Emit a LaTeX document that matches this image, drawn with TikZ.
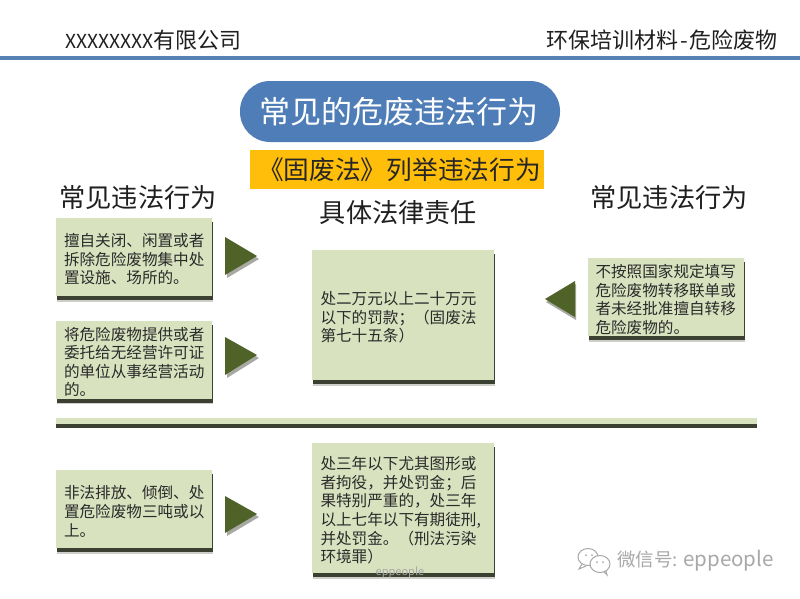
\documentclass[tikz,border=0pt]{standalone}
\usepackage{fontspec}
\setmainfont{Noto Sans CJK SC}
\usetikzlibrary{shadows}
\definecolor{boxgreen}{HTML}{D8E2BF}
\definecolor{shadowdark}{HTML}{3B4030}
\definecolor{arrowgreen}{HTML}{4F6228}
\definecolor{titleblue}{HTML}{4F7DB8}
\definecolor{ruleblue}{HTML}{5581B4}
\definecolor{lawyellow}{HTML}{FFBE0A}
\definecolor{inktext}{HTML}{2A2A2A}
\definecolor{markgray}{HTML}{A8A8A8}
\newcommand{\fs}[2]{\fontsize{#1}{#2}\selectfont}
\tikzset{
  x=1pt,y=-1pt,
  darkshadow/.style={general shadow={shadow xshift=1pt,shadow yshift=-4pt,fill=shadowdark}},
  softshadow/.style={general shadow={shadow xshift=1pt,shadow yshift=-5.5pt,fill=shadowdark!25}},
  lawbox/.style={fill=boxgreen,softshadow,darkshadow,inner sep=0pt,align=left,text=inktext,anchor=center,execute at begin node={\rule{0pt}{18pt}}},
  smallbox/.style={lawbox,minimum width=156pt,minimum height=78pt,text width=140pt,font=\fs{15.6}{18.6}},
  bigbox/.style={lawbox,minimum width=182pt,minimum height=130pt,text width=165pt,font=\fs{15.6}{18.6}},
  arrowhead/.style={fill=arrowgreen,general shadow={shadow xshift=2pt,shadow yshift=-3pt,fill=shadowdark!45}},
  heading/.style={inner sep=0pt,font=\fs{26.2}{30},text=black!88},
  headertext/.style={inner sep=0pt,font=\fs{22}{26},text=black!88},
  wechat/.style={draw=markgray,line width=1pt,fill=white},
}
\begin{document}
\begin{tikzpicture}
\useasboundingbox (0,0) rectangle (800,598);
\fill[white] (0,0) rectangle (800,598);
% header
\node[headertext,anchor=west] (company) at (65,40) {{\fs{19.3}{26}XXXXXXXX}有限公司};
\node[headertext,anchor=east] (material) at (778,40) {环保培训材料\hspace{2pt}{\fs{22}{26}-}\hspace{2pt}危险废物};
\fill[ruleblue] (0,55.5) rectangle (800,60);
% title
\node[fill=titleblue,rounded corners=30pt,minimum width=320pt,minimum height=61pt,inner sep=0pt,text=white,font=\fs{31}{36}] (title) at (400,111.5) {\raisebox{-3pt}{常见的危废违法行为\hspace{3pt}}};
\node[fill=lawyellow,minimum width=294pt,minimum height=39pt,inner sep=0pt,text=black!85,font=\fs{25.7}{30}] (law) at (397,169.5) {\raisebox{-2pt}{\hspace{5pt}《固废法》列举违法行为}};
% headings
\node[heading] (headl) at (138,197.5) {常见违法行为};
\node[heading] (headc) at (398.5,213) {具体法律责任};
\node[heading] (headr) at (669,197.5) {常见违法行为};
% boxes
\node[smallbox] (b1) at (134,257) {擅自关闭、闲置或者\\拆除危险废物集中处\\置设施、场所的。};
\node[smallbox] (b2) at (134,359.5) {将危险废物提供或者\\委托给无经营许可证\\的单位从事经营活动\\的。};
\node[smallbox] (b3) at (134,509) {非法排放、倾倒、处\\置危险废物三吨或以\\上。};
\node[bigbox] (c1) at (403,315) {处二万元以上二十万元\\以下的罚款；（固废法\\第七十五条）};
\node[bigbox] (c2) at (403,508) {处三年以下尤其图形或\\者拘役，并处罚金；后\\果特别严重的，处三年\\以上七年以下有期徒刑,\\并处罚金。（刑法污染\\环境罪）};
\node[smallbox] (r1) at (665.5,297) {不按照国家规定填写\\危险废物转移联单或\\者未经批准擅自转移\\危险废物的。};
% divider
\fill[boxgreen,general shadow={shadow xshift=0pt,shadow yshift=-4pt,fill=shadowdark}] (56,418) rectangle (757,424);
% arrowheads
\fill[arrowhead] (225,237) -- (257,256) -- (225,275) -- cycle;
\fill[arrowhead] (225,337) -- (257,355) -- (225,375) -- cycle;
\fill[arrowhead] (225,496) -- (257,514) -- (225,533) -- cycle;
\fill[arrowgreen,general shadow={shadow xshift=1pt,shadow yshift=-3pt,fill=shadowdark!45}] (575,281) -- (545,299) -- (575,317) -- cycle;
% watermarks
\node[inner sep=0pt,text=markgray,font=\fs{11}{13}] (mark) at (400,572) {eppeople};
\draw[wechat] (588,557) ellipse (10pt and 8.5pt);
\draw[wechat] (600,564) ellipse (10pt and 8.5pt);
\fill[markgray] (586,555) circle (1pt) (592,555) circle (1pt) (597,562) circle (1pt) (603,562) circle (1pt);
\draw[markgray,line width=1pt] (582,564) -- (579,569) -- (586,566);
\draw[markgray,line width=1pt] (604,572) -- (607,575) -- (606,571);
\node[inner sep=0pt,anchor=west,text=markgray,font=\fs{18.5}{22}] (wx) at (617,561) {微信号: {\fs{20.5}{22}eppeople}};
\end{tikzpicture}
\end{document}
